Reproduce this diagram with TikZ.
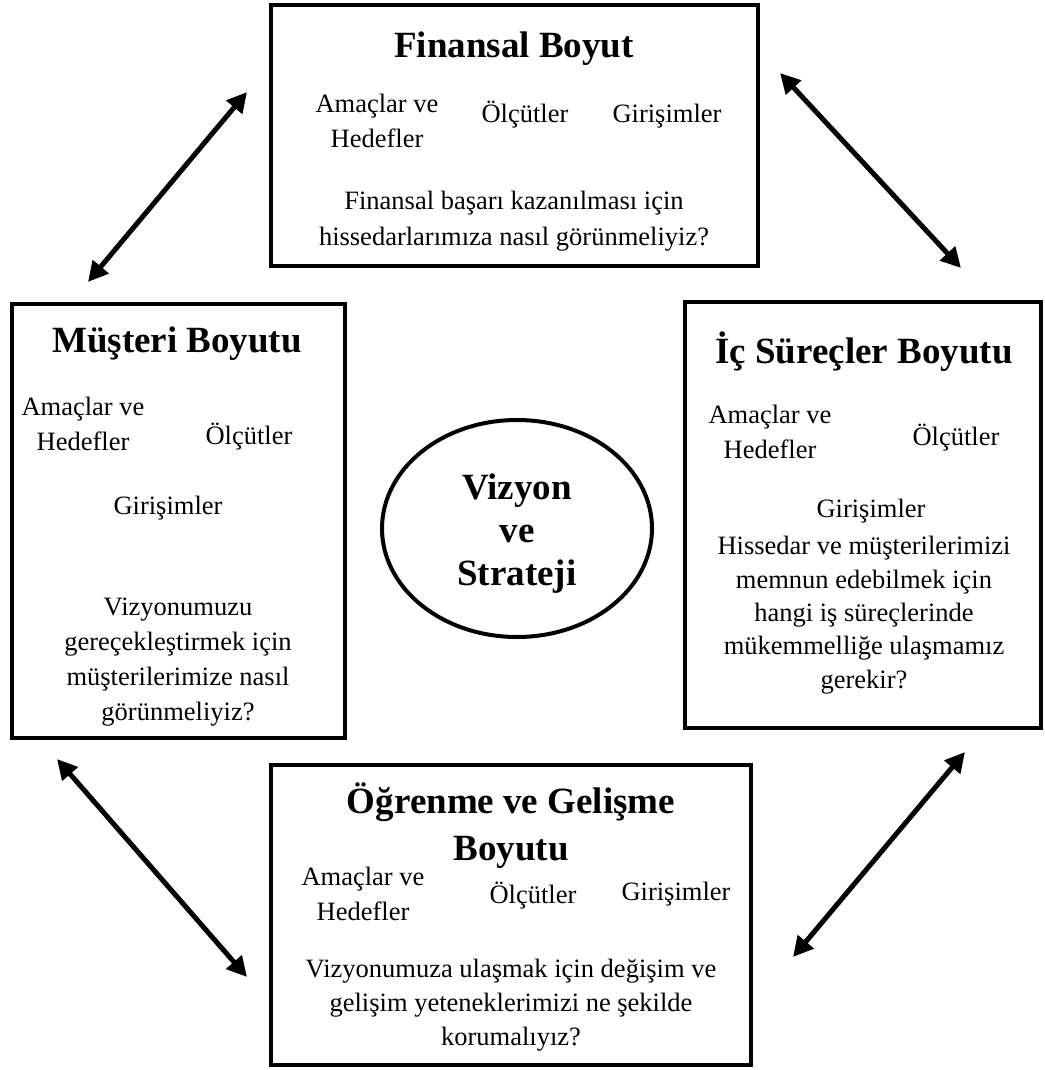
\documentclass[tikz,border=0pt]{standalone}
\usepackage{fontspec}
\setmainfont{Liberation Serif}
\usetikzlibrary{shapes.geometric,arrows.meta}

\tikzset{
  panel/.style={draw=black, line width=4pt, fill=white, inner sep=0pt},
  oval/.style={draw=black, line width=4pt, fill=white, ellipse, inner sep=0pt},
  % multi-line texts are placed by the baseline of their last line
  ttl/.style={font=\fontsize{37}{47}\selectfont\bfseries, align=center, anchor=base, inner sep=0pt},
  txt/.style={font=\fontsize{26.5}{35}\selectfont, align=center, anchor=base, inner sep=0pt},
  dbl/.style={line width=5pt, {Triangle[length=20pt,width=20pt]}-{Triangle[length=20pt,width=20pt]}},
}

\begin{document}
\begin{tikzpicture}[x=1pt,y=-1pt]
\useasboundingbox[fill=white] (0,0) rectangle (1044,1070);

% the four perspective panels and the centre oval
\node[panel, minimum width=487pt, minimum height=261pt] (fin) at (514.5,135.5) {};
\node[panel, minimum width=333pt, minimum height=434pt] (mus) at (178.5,521) {};
\node[panel, minimum width=356pt, minimum height=426pt] (ic)  at (863,515) {};
\node[panel, minimum width=480pt, minimum height=300pt] (og)  at (511,915) {};
\node[oval, minimum width=270pt, minimum height=217pt] (vs) at (517,528.5) {};

% financial perspective
\node[ttl] (finT) at (514,58) {Finansal Boyut};
\node[txt] (finA) at (377,147) {Amaçlar ve\\Hedefler};
\node[txt] (finO) at (525,122) {Ölçütler};
\node[txt] (finG) at (667,123) {Girişimler};
\node[txt, font=\fontsize{26.5}{36}\selectfont] (finQ) at (514,245)
  {Finansal başarı kazanılması için\\hissedarlarımıza nasıl görünmeliyiz?};

% customer perspective
\node[ttl] (musT) at (177,352) {Müşteri Boyutu};
\node[txt] (musA) at (83,450) {Amaçlar ve\\Hedefler};
\node[txt] (musO) at (249,444) {Ölçütler};
\node[txt] (musG) at (168,514) {Girişimler};
\node[txt, font=\fontsize{26.5}{35}\selectfont] (musQ) at (178,720)
  {Vizyonumuzu\\gereçekleştirmek için\\müşterilerimize nasıl\\görünmeliyiz?};

% internal process perspective
\node[ttl] (icT) at (864,363) {İç Süreçler Boyutu};
\node[txt] (icA) at (770,458) {Amaçlar ve\\Hedefler};
\node[txt] (icO) at (956,445) {Ölçütler};
\node[txt] (icG) at (871,517) {Girişimler};
\node[txt, font=\fontsize{26.5}{33.3}\selectfont] (icQ) at (864,688)
  {Hissedar ve müşterilerimizi\\memnun edebilmek için\\hangi iş süreçlerinde\\mükemmelliğe ulaşmamız\\gerekir?};

% learning and growth perspective
\node[ttl] (ogT) at (511,860) {Öğrenme ve Gelişme\\Boyutu};
\node[txt] (ogA) at (363,920) {Amaçlar ve\\Hedefler};
\node[txt] (ogO) at (533,903) {Ölçütler};
\node[txt] (ogG) at (676,900) {Girişimler};
\node[txt, font=\fontsize{26.5}{34}\selectfont] (ogQ) at (511,1045)
  {Vizyonumuza ulaşmak için değişim ve\\gelişim yeteneklerimizi ne şekilde\\korumalıyız?};

% vision and strategy
\node[ttl, font=\fontsize{37}{43}\selectfont\bfseries] (vsT) at (517,585) {Vizyon\\ve\\Strateji};

% ends of the two-way arrows
\coordinate (tlA) at (247,92);  \coordinate (tlB) at (88,282);
\coordinate (trA) at (780,73);  \coordinate (trB) at (961,268);
\coordinate (blA) at (57,759);  \coordinate (blB) at (247,977);
\coordinate (brA) at (965,752); \coordinate (brB) at (793,957);

\draw[dbl] (tlB) -- (tlA);
\draw[dbl] (trA) -- (trB);
\draw[dbl] (blA) -- (blB);
\draw[dbl] (brB) -- (brA);
\end{tikzpicture}
\end{document}
